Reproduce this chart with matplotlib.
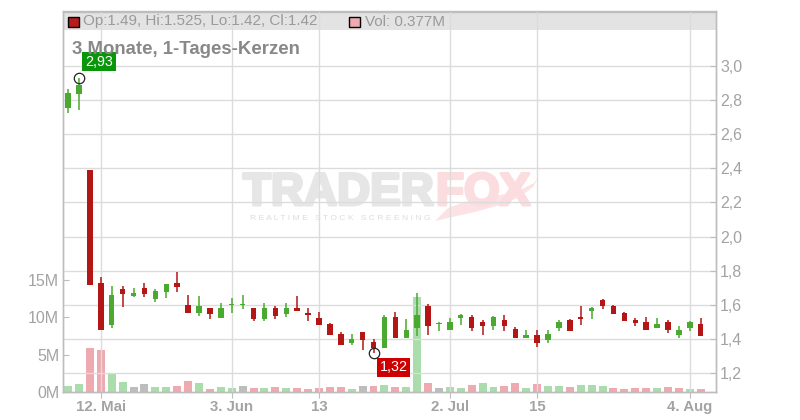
import matplotlib
matplotlib.use("Agg")
import matplotlib.pyplot as plt
from matplotlib.patches import Rectangle, Polygon
import matplotlib.patheffects as pe
import numpy as np

plt.rcParams['font.family'] = ['Liberation Sans', 'DejaVu Sans']

# ---------------- data ----------------
opens = [2.754, 2.836, 2.39, 1.727, 1.483, 1.693, 1.652, 1.699, 1.635, 1.676,
         1.729, 1.600, 1.553, 1.582, 1.524, 1.598, 1.598, 1.582, 1.520, 1.582,
         1.549, 1.582, 1.555, 1.524, 1.490, 1.430, 1.379, 1.442, 1.383, 1.350,
         1.530, 1.408, 1.467, 1.596, 1.488, 1.455, 1.525, 1.531, 1.502, 1.479,
         1.514, 1.461, 1.408, 1.426, 1.397, 1.467, 1.514, 1.531, 1.566, 1.631,
         1.596, 1.555, 1.514, 1.502, 1.467, 1.502, 1.426, 1.467, 1.49]
highs = [2.864, 2.93, 2.39, 1.764, 1.711, 1.711, 1.699, 1.729, 1.693, 1.725,
         1.793, 1.658, 1.652, 1.585, 1.611, 1.641, 1.660, 1.585, 1.613, 1.594,
         1.611, 1.652, 1.580, 1.559, 1.496, 1.444, 1.430, 1.444, 1.401, 1.543,
         1.559, 1.518, 1.670, 1.604, 1.502, 1.525, 1.549, 1.543, 1.514, 1.533,
         1.543, 1.473, 1.455, 1.455, 1.455, 1.514, 1.520, 1.596, 1.590, 1.637,
         1.598, 1.561, 1.525, 1.531, 1.525, 1.514, 1.479, 1.508, 1.525]
lows = [2.725, 2.743, 1.717, 1.453, 1.467, 1.588, 1.647, 1.647, 1.617, 1.641,
        1.676, 1.553, 1.535, 1.518, 1.524, 1.555, 1.578, 1.506, 1.508, 1.520,
        1.529, 1.566, 1.508, 1.485, 1.426, 1.367, 1.367, 1.338, 1.32, 1.350,
        1.408, 1.408, 1.420, 1.426, 1.449, 1.455, 1.485, 1.449, 1.426, 1.455,
        1.449, 1.408, 1.408, 1.356, 1.379, 1.449, 1.449, 1.485, 1.520, 1.578,
        1.549, 1.508, 1.479, 1.455, 1.467, 1.438, 1.408, 1.449, 1.42]
closes = [2.842, 2.887, 1.717, 1.453, 1.658, 1.664, 1.670, 1.664, 1.682, 1.723,
          1.705, 1.553, 1.594, 1.547, 1.582, 1.602, 1.602, 1.520, 1.580, 1.537,
          1.582, 1.566, 1.540, 1.485, 1.426, 1.367, 1.399, 1.397, 1.346, 1.530,
          1.408, 1.453, 1.541, 1.479, 1.492, 1.502, 1.543, 1.467, 1.479, 1.531,
          1.479, 1.408, 1.426, 1.379, 1.432, 1.502, 1.449, 1.520, 1.584, 1.596,
          1.549, 1.508, 1.496, 1.455, 1.490, 1.455, 1.455, 1.502, 1.42]
volumes = [0.75, 1.10, 5.90, 5.65, 2.45, 1.37, 0.70, 1.10, 0.70, 0.70,
           0.84, 1.50, 1.24, 0.44, 0.70, 0.57, 0.84, 0.57, 0.57, 0.70,
           0.57, 0.57, 0.44, 0.57, 0.70, 0.70, 0.44, 0.84, 0.84, 0.97,
           0.70, 0.70, 12.7, 1.15, 0.48, 0.62, 0.48, 0.89, 1.15, 0.62,
           0.75, 1.15, 0.48, 1.02, 0.75, 0.75, 0.62, 0.89, 0.89, 0.75,
           0.48, 0.35, 0.48, 0.48, 0.48, 0.62, 0.48, 0.35, 0.377]  # millions
vol_dir = ['u', 'u', 'd', 'd', 'u', 'u', 'n', 'n', 'u', 'u',
           'd', 'd', 'u', 'd', 'u', 'u', 'n', 'd', 'u', 'd',
           'u', 'd', 'd', 'd', 'd', 'd', 'u', 'n', 'd', 'u',
           'd', 'u', 'u', 'd', 'n', 'u', 'u', 'd', 'u', 'u',
           'd', 'd', 'u', 'd', 'u', 'u', 'd', 'u', 'u', 'u',
           'd', 'd', 'd', 'd', 'u', 'd', 'd', 'u', 'd']
tick_idx = [3, 15, 23, 35, 43, 57]
tick_labels = ['12. Mai', '3. Jun', '13', '2. Jul', '15', '4. Aug']
price_ticks = [1.2, 1.4, 1.6, 1.8, 2.0, 2.2, 2.4, 2.6, 2.8, 3.0]
vol_ticks = [0, 5, 10, 15]

# ---------------- styles ----------------
UP = '#4aaa2f'
DOWN = '#b41616'
VOL_C = {'u': '#abdcab', 'd': '#eea9b1', 'n': '#bdbdbd'}
GRID = '#dcdcdc'
SPINE = '#bdbdbd'
TXT = '#a3a3a3'

W_PX, H_PX = 800, 420
fig = plt.figure(figsize=(8, 4.2), dpi=100)
L, R, T, B = 63.3, 716, 11.5, 392
ax_v = fig.add_axes([L / W_PX, 1 - B / H_PX, (R - L) / W_PX, (B - T) / H_PX])
ax_p = ax_v.twinx()
ax_p.set_zorder(ax_v.get_zorder() + 1)
ax_p.patch.set_visible(False)

n = len(opens)
x = np.arange(n)
ax_v.set_xlim(-0.44, 59.4)
ax_v.set_ylim(0, 50.8)
ax_p.set_ylim(1.0906, 3.317)

# header band
ax_v.add_patch(Rectangle((0, 1 - 18.5 / (B - T)), 1, 18.5 / (B - T),
                         transform=ax_v.transAxes, facecolor='#e3e3e3',
                         edgecolor='none', zorder=0))


def fx(px):
    return px / W_PX


def fy(py):
    return 1 - py / H_PX


# watermark
tail = [(435, 221), (452, 217), (475, 212), (500, 205), (520, 197), (533, 187),
        (539, 177), (534, 183), (522, 189), (505, 194), (485, 198), (465, 202),
        (448, 208)]
ax_v.add_patch(Polygon([(fx(a), fy(b)) for a, b in tail], closed=True,
                       transform=fig.transFigure, fc='#fde2e5', ec='none',
                       zorder=0.4, clip_on=False))
ax_v.text(fx(434), fy(193), 'TRADER', transform=fig.transFigure, ha='right',
          va='center', fontsize=33, fontweight='bold', color='#e6e6e6',
          zorder=0.5, clip_on=False,
          path_effects=[pe.withStroke(linewidth=2.2, foreground='#e6e6e6')])
ax_v.text(fx(436), fy(193), 'FOX', transform=fig.transFigure, ha='left',
          va='center', fontsize=33, fontweight='bold', color='#fbdcdf',
          zorder=0.5, clip_on=False,
          path_effects=[pe.withStroke(linewidth=2.2, foreground='#fbdcdf')])
ax_v.text(fx(250), fy(218), 'R E A L T I M E   S T O C K   S C R E E N I N G',
          transform=fig.transFigure, ha='left', va='center', fontsize=6.1,
          color='#dcdcdc', zorder=0.5, clip_on=False)

# volume bars
ax_v.bar(x, volumes, width=0.73, color=[VOL_C[d] for d in vol_dir],
         zorder=2, linewidth=0)

# grid
for p in price_ticks:
    ax_p.axhline(p, color=GRID, lw=1, zorder=0.5)
for t in tick_idx:
    ax_p.axvline(t, color=GRID, lw=1, zorder=0.5)

# candles
for i in range(n):
    o, h, l, c = opens[i], highs[i], lows[i], closes[i]
    col = UP if c >= o else DOWN
    ax_p.vlines(i, l, h, color=col, lw=1.1, zorder=3)
    lo_b, hi_b = min(o, c), max(o, c)
    hgt = max(hi_b - lo_b, 0.006)
    ax_p.bar(i, hgt, bottom=lo_b, width=0.5, color=col, zorder=3, linewidth=0)

# high / low markers
i_hi = int(np.argmax(highs))
i_lo = int(np.argmin(lows))
ax_p.plot([i_hi], [highs[i_hi]], 'o', ms=7.5, mfc='none', mec='#222222',
          mew=0.9, zorder=4)
ax_p.plot([i_lo], [lows[i_lo]], 'o', ms=7.5, mfc='none', mec='#222222',
          mew=0.9, zorder=4)
ax_p.annotate(f'{highs[i_hi]:.2f}'.replace('.', ','), (i_hi, highs[i_hi]),
              xytext=(20, 16), textcoords='offset pixels', ha='center',
              va='center', fontsize=10.3, color='white', zorder=5,
              bbox=dict(boxstyle='square,pad=0.18', fc='#0a960a', ec='none'))
ax_p.annotate(f'{lows[i_lo]:.2f}'.replace('.', ','), (i_lo, lows[i_lo]),
              xytext=(20, -14.5), textcoords='offset pixels', ha='center',
              va='center', fontsize=10.3, color='white', zorder=5,
              bbox=dict(boxstyle='square,pad=0.18', fc='#cc0000', ec='none'))

# axes formatting
ax_v.set_xticks(tick_idx)
ax_v.set_xticklabels(tick_labels, fontsize=10.8, fontweight='bold', color=TXT)
ax_v.tick_params(axis='x', direction='out', length=4, color=SPINE, pad=2)
ax_v.set_yticks(vol_ticks)
ax_v.set_yticklabels([f'{v}M' for v in vol_ticks], fontsize=11.5, color=TXT)
ax_v.tick_params(axis='y', direction='in', length=4, color=SPINE, pad=3)
ax_p.set_yticks(price_ticks)
ax_p.set_yticklabels([f'{p:.1f}'.replace('.', ',') for p in price_ticks],
                     fontsize=11.5, color=TXT)
ax_p.tick_params(axis='y', direction='in', length=4, color=SPINE, pad=3)
for a in (ax_v, ax_p):
    for s in a.spines.values():
        s.set_color(SPINE)
        s.set_linewidth(1)

# header legend
fig.patches.append(Rectangle((fx(68), fy(26.7)), 11 / W_PX, 10 / H_PX,
                             transform=fig.transFigure, fc='#b71c1c',
                             ec='black', lw=1, zorder=5))
fig.text(fx(83), fy(21.5),
         f'Op:{opens[-1]}, Hi:{highs[-1]}, Lo:{lows[-1]}, Cl:{closes[-1]}',
         ha='left', va='center', fontsize=11, color='#9a9a9a', zorder=6)
fig.patches.append(Rectangle((fx(349), fy(26.7)), 10.5 / W_PX, 10 / H_PX,
                             transform=fig.transFigure, fc='#eea9b1',
                             ec='black', lw=1, zorder=5))
fig.text(fx(365), fy(21.5), f'Vol: {volumes[-1]}M', ha='left', va='center',
         fontsize=11, color='#9a9a9a', zorder=6)

# title
fig.text(fx(72), fy(54), '3 Monate, 1-Tages-Kerzen', ha='left',
         va='baseline', fontsize=13.4, fontweight='bold', color='#888888',
         zorder=6)

fig.savefig('out.png', dpi=100)
